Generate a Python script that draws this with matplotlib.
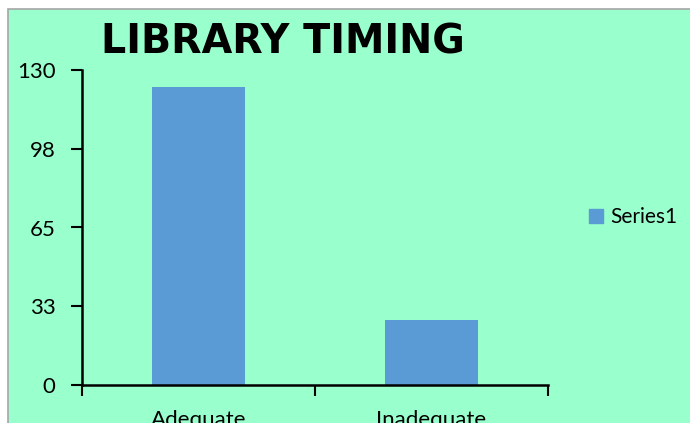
import matplotlib
matplotlib.use("Agg")
import matplotlib.pyplot as plt
from matplotlib.patches import Rectangle, Patch

categories = ["Adequate", "Inadequate"]
series1 = [123, 27]
y_ticks = [0, 32.5, 65, 97.5, 130]
y_tick_labels = ["0", "33", "65", "98", "130"]

W, H = 690, 423
fig = plt.figure(figsize=(W / 100, H / 100), dpi=100)
fig.patch.set_facecolor("white")

# chart area panel with thin grey frame
bg = Rectangle((8 / W, -0.1), 1.2, 1 - 9 / H + 0.1, transform=fig.transFigure,
               facecolor="#99FFCC", edgecolor="#A6A6A6", linewidth=1.2, zorder=-5)
fig.patches.append(bg)

ax = fig.add_axes([82 / W, (H - 385) / H, (548 - 82) / W, (385 - 70) / H])
ax.set_facecolor("none")
ax.set_zorder(2)

font = "Lato"
fs = 16
x = range(len(categories))
ax.bar(x, series1, width=0.40, color="#5B9BD5", zorder=2)
ax.set_xlim(-0.5, 1.5)
ax.set_ylim(0, 130)
ax.set_yticks(y_ticks)
ax.set_yticklabels(y_tick_labels, fontsize=fs, family=font)
ax.set_xticks([-0.5, 0.5, 1.5], minor=False)
ax.set_xticklabels([])
ax.set_xticks([0, 1], minor=True)
ax.set_xticklabels(categories, minor=True, fontsize=fs, family=font)
ax.tick_params(axis="x", which="minor", length=0, pad=18)
ax.tick_params(axis="x", which="major", length=8, width=1.5, direction="out")
ax.tick_params(axis="y", length=8, width=1.5, direction="out", pad=11)

for s in ["top", "right"]:
    ax.spines[s].set_visible(False)
for s in ["left", "bottom"]:
    ax.spines[s].set_linewidth(1.8)

fig.text(283 / W, 1 - 42 / H, "LIBRARY TIMING", ha="center", va="center",
         fontsize=28.5, fontweight="bold", family="DejaVu Sans")

fig.legend(handles=[Patch(color="#5B9BD5", label="Series1")],
           loc="center left", bbox_to_anchor=(589 / W, 1 - 217 / H),
           frameon=False, prop={"family": font, "size": 15}, borderpad=0,
           borderaxespad=0, handlelength=0.65, handleheight=0.65,
           handletextpad=0.35)

fig.savefig("out.png", dpi=100)
